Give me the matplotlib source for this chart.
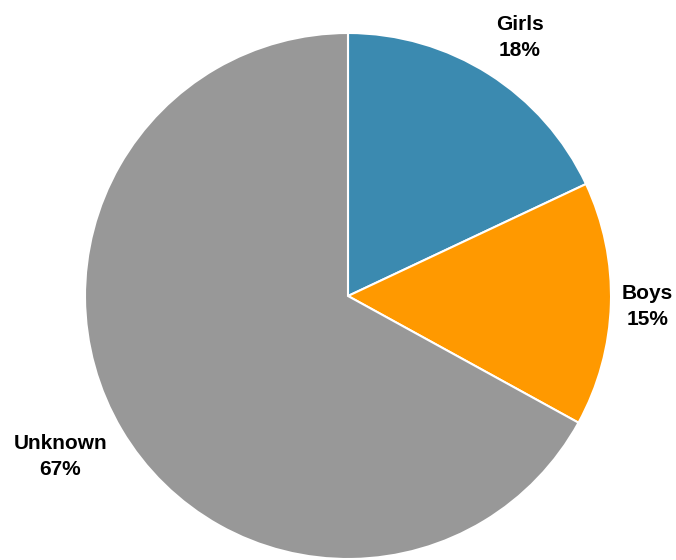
import numpy as np
import matplotlib
matplotlib.use("Agg")
import matplotlib.pyplot as plt

categories = ["Girls", "Boys", "Unknown"]
shares = [18, 15, 67]
colors = ["#3b8ab0", "#ff9900", "#989898"]

# label placement: radial distance (in radii) and angular nudge (degrees)
label_dist = [1.186, 1.139, 1.248]
label_nudge = [-1.0, 0.1, -1.8]

fig = plt.figure(figsize=(6.76, 5.6), dpi=100)
ax = fig.add_axes([0, 0, 1, 1])

cx, cy, r = 348, 264, 263
wedges, _ = ax.pie(shares, colors=colors, startangle=90, counterclock=False,
                   center=(cx, cy), radius=r, frame=True,
                   wedgeprops=dict(edgecolor="white", linewidth=1.5))
ax.set_xlim(0, 676)
ax.set_ylim(0, 560)
ax.set_aspect("equal")
ax.axis("off")

total = sum(shares)
for w, name, val, d, nd in zip(wedges, categories, shares, label_dist, label_nudge):
    mid = np.deg2rad((w.theta1 + w.theta2) / 2 + nd)
    x = cx + r * d * np.cos(mid)
    y = cy + r * d * np.sin(mid) - 2
    ax.text(x, y, f"{name}\n{round(val / total * 100)}%", ha="center", va="center",
            fontsize=15, fontweight="bold", family="Liberation Sans",
            color="#000000", linespacing=1.48)

fig.savefig("out.png", dpi=100)
